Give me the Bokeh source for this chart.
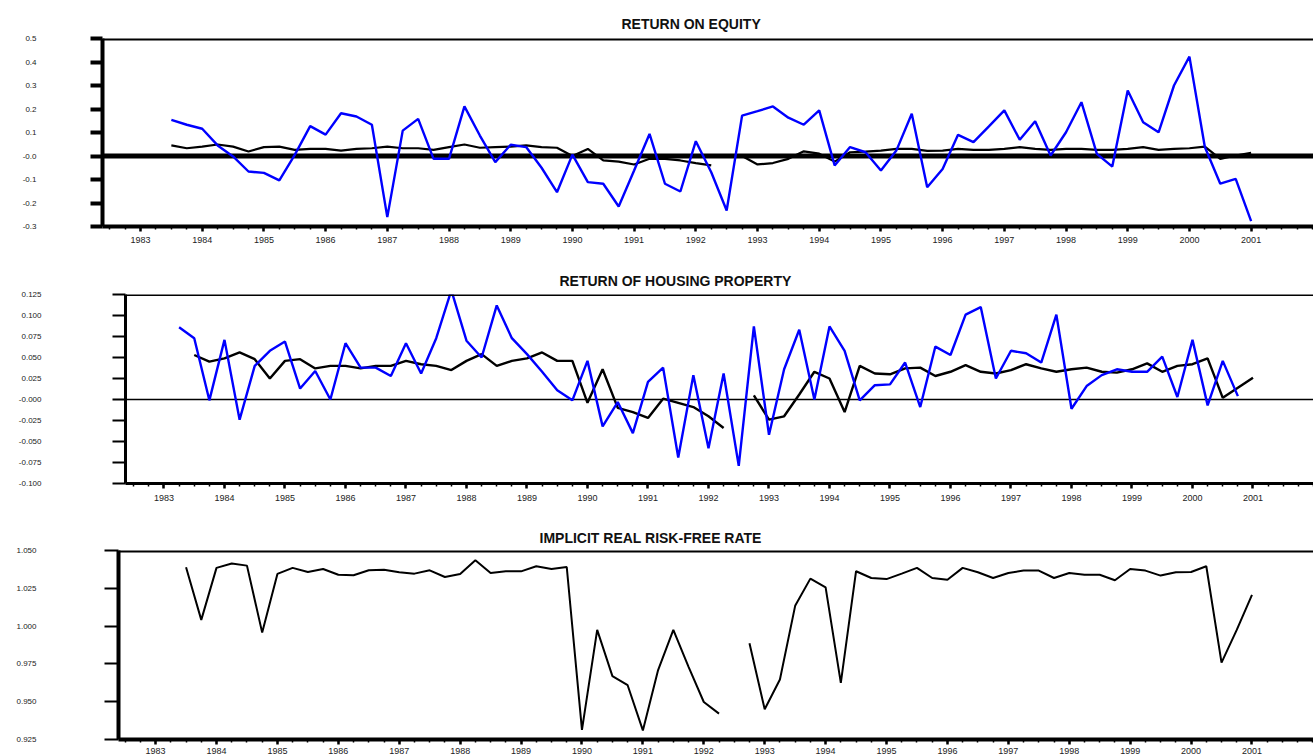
import math
from bokeh.plotting import figure
from bokeh.models import FixedTicker, Span, Range1d
from bokeh.embed import file_html
from bokeh.resources import INLINE

nan = float("nan")

# quarterly time index 1983Q2 .. 2001Q1 (decimal years)
quarters = [1983.25 + 0.25 * i for i in range(72)]
year_ticks = list(range(1983, 2002))
quarter_minor = [1982.25 + 0.25 * i for i in range(80)]

# ---------------- RETURN ON EQUITY ----------------
roe_actual = [nan,
    0.154, 0.133,
    0.116, 0.045, -0.002, -0.066,
    -0.072, -0.104, 0.005, 0.127,
    0.091, 0.182, 0.168, 0.133,
    -0.260, 0.108, 0.158, -0.012,
    -0.012, 0.211, 0.087, -0.026,
    0.048, 0.038, -0.050, -0.154,
    0.006, -0.111, -0.118, -0.215,
    -0.062, 0.094, -0.118, -0.151,
    0.063, -0.069, -0.232, 0.172,
    0.191, 0.211, 0.163, 0.133,
    0.194, -0.040, 0.038, 0.016,
    -0.062, 0.023, 0.180, -0.133,
    -0.055, 0.090, 0.059, 0.126,
    0.194, 0.069, 0.148, 0.002,
    0.101, 0.229, 0.009, -0.045,
    0.279, 0.144, 0.101, 0.300,
    0.423, 0.038, -0.118, -0.097,
    -0.277]
roe_model = [nan,
    0.045, 0.033,
    0.040, 0.049, 0.040, 0.019,
    0.038, 0.040, 0.026, 0.030,
    0.030, 0.023, 0.030, 0.033,
    0.040, 0.033, 0.033, 0.026,
    0.038, 0.049, 0.035, 0.038,
    0.040, 0.045, 0.038, 0.035,
    0.000, 0.030, -0.019, -0.024,
    -0.036, -0.012, -0.012, -0.019,
    -0.030, -0.040, nan, 0.000,
    -0.036, -0.030, -0.012, 0.020,
    0.010, -0.024, 0.016, 0.019,
    0.023, 0.030, 0.030, 0.022,
    0.023, 0.030, 0.026, 0.026,
    0.030, 0.038, 0.030, 0.026,
    0.030, 0.030, 0.026, 0.026,
    0.030, 0.038, 0.026, 0.030,
    0.033, 0.040, -0.012, 0.002,
    0.014]
roe_yticks = [0.5, 0.4, 0.3, 0.2, 0.1, 0.0, -0.1, -0.2, -0.3]
roe_ylabels = ["0.5", "0.4", "0.3", "0.2", "0.1", "-0.0", "-0.1", "-0.2", "-0.3"]

# ---------------- RETURN OF HOUSING PROPERTY ----------------
hp_actual = [0.086,
    0.073, -0.001,
    0.071, -0.024, 0.040, 0.058,
    0.069, 0.013, 0.034, 0.000,
    0.067, 0.038, 0.038, 0.028,
    0.067, 0.031, 0.073, 0.130,
    0.070, 0.050, 0.112, 0.073,
    0.054, 0.033, 0.011, -0.001,
    0.046, -0.032, -0.003, -0.040,
    0.021, 0.038, -0.069, 0.029,
    -0.058, 0.031, -0.079, 0.087,
    -0.042, 0.036, 0.083, 0.000,
    0.087, 0.058, -0.001, 0.017,
    0.018, 0.044, -0.009, 0.063,
    0.053, 0.101, 0.110, 0.025,
    0.058, 0.055, 0.044, 0.101,
    -0.011, 0.016, 0.029, 0.036,
    0.033, 0.033, 0.051, 0.003,
    0.071, -0.007, 0.046, 0.004,
    nan]
hp_model = [nan,
    0.053, 0.045,
    0.049, 0.056, 0.048, 0.025,
    0.046, 0.048, 0.037, 0.040,
    0.040, 0.037, 0.040, 0.040,
    0.046, 0.042, 0.040, 0.035,
    0.046, 0.054, 0.040, 0.046,
    0.049, 0.056, 0.046, 0.046,
    -0.004, 0.036, -0.010, -0.015,
    -0.022, 0.001, -0.004, -0.009,
    -0.020, -0.034, nan, 0.005,
    -0.024, -0.020, 0.006, 0.033,
    0.025, -0.015, 0.040, 0.031,
    0.030, 0.037, 0.038, 0.028,
    0.033, 0.041, 0.033, 0.031,
    0.035, 0.042, 0.037, 0.033,
    0.036, 0.038, 0.033, 0.032,
    0.036, 0.043, 0.033, 0.040,
    0.042, 0.049, 0.002, 0.014,
    0.026]
hp_yticks = [0.125, 0.1, 0.075, 0.05, 0.025, 0.0, -0.025, -0.05, -0.075, -0.1]
hp_ylabels = ["0.125", "0.100", "0.075", "0.050", "0.025", "-0.000",
              "-0.025", "-0.050", "-0.075", "-0.100"]

# ---------------- IMPLICIT REAL RISK-FREE RATE ----------------
rf_rate = [nan,
    1.0389, 1.0041,
    1.0385, 1.0414, 1.0400, 0.9957,
    1.0345, 1.0385, 1.0358, 1.0378,
    1.0340, 1.0336, 1.0369, 1.0373,
    1.0356, 1.0347, 1.0369, 1.0325,
    1.0345, 1.0436, 1.0351, 1.0362,
    1.0362, 1.0396, 1.0378, 1.0391,
    0.9314, 0.9975, 0.9669, 0.9609,
    0.9310, 0.9709, 0.9975, 0.9731,
    0.9498, 0.9421, nan, 0.9886,
    0.9450, 0.9647, 1.0134, 1.0314,
    1.0256, 0.9624, 1.0363, 1.0318,
    1.0311, 1.0347, 1.0385, 1.0318,
    1.0307, 1.0385, 1.0356, 1.0318,
    1.0351, 1.0367, 1.0367, 1.0318,
    1.0351, 1.0340, 1.0340, 1.0303,
    1.0378, 1.0367, 1.0334, 1.0356,
    1.0358, 1.0396, 0.9758, 0.9975,
    1.0207]
rf_yticks = [1.05, 1.025, 1.0, 0.975, 0.95, 0.925]
rf_ylabels = ["1.050", "1.025", "1.000", "0.975", "0.950", "0.925"]

W = 1313
FONT = "Liberation Sans"


def panel(title, height, left, top, bottom, xr, yr, yticks, ylabels,
          frame_w, ytick_w, ytick_out, ystand, title_stand, title_off, xstand):
    p = figure(width=W, height=height, x_range=Range1d(*xr), y_range=Range1d(*yr),
               toolbar_location=None, output_backend="svg",
               min_border_left=left, min_border_right=0,
               min_border_top=top, min_border_bottom=bottom)
    p.outline_line_color = None
    p.grid.visible = False
    p.background_fill_color = "white"
    p.border_fill_color = "white"

    p.title.text = title
    p.title.align = "left"
    p.title.offset = title_off
    p.title.text_font = FONT
    p.title.text_font_size = "14px"
    p.title.text_font_style = "bold"
    p.title.text_color = "#111111"
    p.title.standoff = title_stand

    xa = p.xaxis[0]
    xa.ticker = FixedTicker(ticks=year_ticks, minor_ticks=quarter_minor)
    xa.axis_line_width = frame_w
    xa.major_tick_in = 0
    xa.major_tick_out = 5
    xa.major_tick_line_width = 2.5
    xa.minor_tick_in = 0
    xa.minor_tick_out = 3
    xa.minor_tick_line_width = 1.5
    xa.major_label_text_font = FONT
    xa.major_label_text_font_size = "9px"
    xa.major_label_text_color = "#222222"
    xa.major_label_standoff = xstand

    ya = p.yaxis[0]
    ya.ticker = FixedTicker(ticks=yticks)
    ya.major_label_overrides = dict(zip(yticks, ylabels))
    ya.axis_line_width = frame_w
    ya.major_tick_in = 0
    ya.major_tick_out = ytick_out
    ya.major_tick_line_width = ytick_w
    ya.minor_tick_line_color = None
    ya.major_label_text_font = FONT
    ya.major_label_text_font_size = "8px"
    ya.major_label_text_color = "#222222"
    ya.major_label_standoff = ystand

    p.add_layout(Span(location=yr[1], dimension="width", line_color="black",
                      line_width=frame_w))
    return p


# panel 1
p1 = panel("RETURN ON EQUITY", 256, 102, 38, 30,
           (1982.384, 2002.011), (-0.3, 0.5), roe_yticks, roe_ylabels,
           4, 4, 12, 54, 13, 519, 5)
p1.add_layout(Span(location=0, dimension="width", line_color="black",
                   line_width=5, level="underlay"))
p1.line(quarters, roe_model, line_color="black", line_width=2.2)
p1.line(quarters, roe_actual, line_color="#0000ff", line_width=2.4)

# panel 2
p2 = panel("RETURN OF HOUSING PROPERTY", 256, 125, 38, 29,
           (1982.364, 2002.0), (-0.1, 0.125), hp_yticks, hp_ylabels,
           3, 2, 13, 71, 11, 434, 6)
p2.add_layout(Span(location=0, dimension="width", line_color="black",
                   line_width=1.5, level="underlay"))
p2.line(quarters, hp_model, line_color="black", line_width=2.4)
p2.line(quarters, hp_actual, line_color="#0000ff", line_width=2.4)

# panel 3
p3 = panel("IMPLICIT REAL RISK-FREE RATE", 244, 118, 38, 17,
           (1982.391, 2002.01), (0.925, 1.05), rf_yticks, rf_ylabels,
           4, 2, 14, 68, 9, 421, 3)
p3.line(quarters, rf_rate, line_color="black", line_width=2.0)

open("out.html", "w").write(file_html([p1, p2, p3], INLINE))
